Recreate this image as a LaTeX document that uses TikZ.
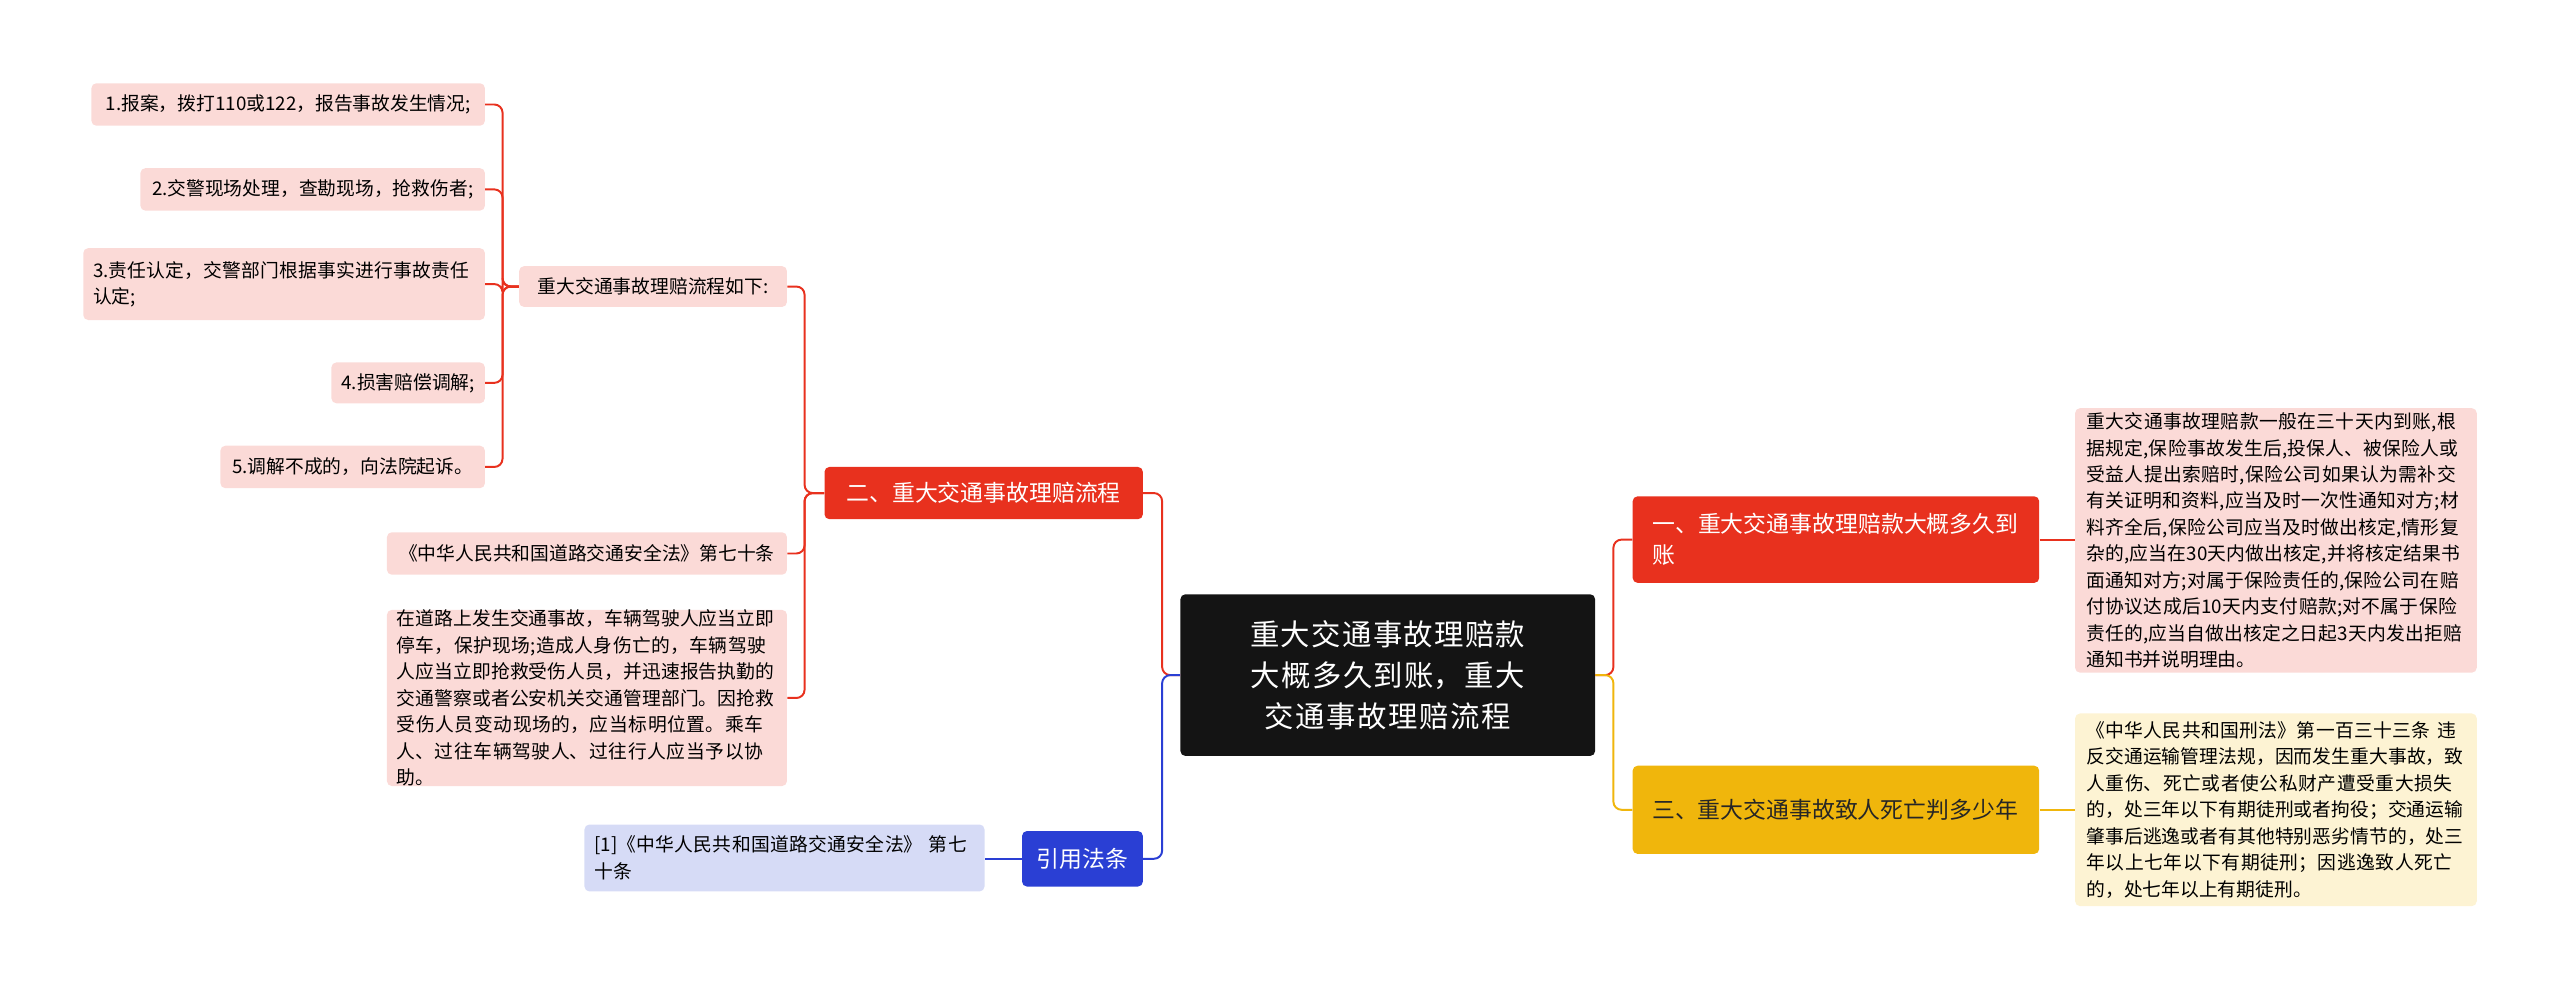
\documentclass[tikz,border=0pt]{standalone}
\usepackage{fontspec}
\setmainfont{Noto Sans CJK SC}
\XeTeXlinebreaklocale "zh"
\XeTeXlinebreakskip=0pt plus 1pt
\definecolor{cred}{HTML}{E8311E}
\definecolor{cpink}{HTML}{FBDAD7}
\definecolor{cyel}{HTML}{F0B60C}
\definecolor{clyel}{HTML}{FDF3D3}
\definecolor{cblue}{HTML}{2A3FD4}
\definecolor{clav}{HTML}{D6DBF6}
\begin{document}
\begin{tikzpicture}[x=1pt,y=-1pt,
 bx/.style={rounded corners=3pt,inner sep=0pt,align=left,anchor=center},
 leaf/.style={bx,fill=cpink,font=\fontsize{11.5}{16.2}\selectfont},
 lv/.style={bx,font=\fontsize{14}{19}\selectfont},
 ln/.style={line width=1.2pt,rounded corners=5pt}]
\useasboundingbox (0,0) rectangle (1568,606);
% center
\node[bx,fill=black!92,text=white,align=center,minimum width=254,minimum height=99,text width=226,font=\fontsize{18}{25}\selectfont] (c) at (850,413.5) {重大交通事故理赔款大概多久到账，重大交通事故理赔流程};
% right
\node[lv,fill=cred,text=white,minimum width=249,minimum height=53,text width=225] (r1) at (1124.5,330.5) {一、重大交通事故理赔款大概多久到账};
\node[leaf,minimum width=246,minimum height=162,text width=232] (r1a) at (1394,331) {重大交通事故理赔款一般在三十天内到账,根据规定,保险事故发生后,投保人、被保险人或受益人提出索赔时,保险公司如果认为需补交有关证明和资料,应当及时一次性通知对方;材料齐全后,保险公司应当及时做出核定,情形复杂的,应当在30天内做出核定,并将核定结果书面通知对方;对属于保险责任的,保险公司在赔付协议达成后10天内支付赔款;对不属于保险责任的,应当自做出核定之日起3天内发出拒赔通知书并说明理由。};
\node[lv,fill=cyel,text=black!85,minimum width=249,minimum height=54,text width=225] (r2) at (1124.5,496) {三、重大交通事故致人死亡判多少年};
\node[leaf,fill=clyel,minimum width=246,minimum height=118,text width=232] (r2a) at (1394,496) {《中华人民共和国刑法》第一百三十三条 违反交通运输管理法规，因而发生重大事故，致人重伤、死亡或者使公私财产遭受重大损失的，处三年以下有期徒刑或者拘役；交通运输肇事后逃逸或者有其他特别恶劣情节的，处三年以上七年以下有期徒刑；因逃逸致人死亡的，处七年以上有期徒刑。};
% left
\node[lv,fill=cred,text=white,align=center,minimum width=195,minimum height=32] (l1) at (602.5,302) {二、重大交通事故理赔流程};
\node[lv,fill=cblue,text=white,align=center,minimum width=74,minimum height=34] (l2) at (663,526) {引用法条};
\node[leaf,minimum width=164,minimum height=25,align=center] (a) at (400,175.5) {重大交通事故理赔流程如下:};
\node[leaf,minimum width=245,minimum height=26,align=center] (b) at (359.5,339) {《中华人民共和国道路交通安全法》第七十条};
\node[leaf,minimum width=245,minimum height=103,text width=233] (d) at (359.5,427.5) {在道路上发生交通事故，车辆驾驶人应当立即停车，保护现场;造成人身伤亡的，车辆驾驶人应当立即抢救受伤人员，并迅速报告执勤的交通警察或者公安机关交通管理部门。因抢救受伤人员变动现场的，应当标明位置。乘车人、过往车辆驾驶人、过往行人应当予以协助。};
\node[leaf,fill=clav,minimum width=245,minimum height=41,text width=233] (e) at (480.5,525.5) {[1]《中华人民共和国道路交通安全法》 第七十条};
\node[leaf,minimum width=241,minimum height=26,align=center] (s1) at (176.5,64) {1.报案，拨打110或122，报告事故发生情况;};
\node[leaf,minimum width=211,minimum height=26,align=center] (s2) at (191.5,116) {2.交警现场处理，查勘现场，抢救伤者;};
\node[leaf,minimum width=246,minimum height=44,text width=234] (s3) at (174,174) {3.责任认定，交警部门根据事实进行事故责任认定;};
\node[leaf,minimum width=94,minimum height=25,align=center] (s4) at (250,234.5) {4.损害赔偿调解;};
\node[leaf,minimum width=162,minimum height=26,align=center] (s5) at (216,286) {5.调解不成的，向法院起诉。};
% connectors
\draw[ln,cred] (c.west) -- ++(-11,0) |- (l1.east);
\draw[ln,cblue] (c.west) -- ++(-11,0) |- (l2.east);
\draw[ln,cred] (c.east) -- ++(11,0) |- (r1.west);
\draw[ln,cyel] (c.east) -- ++(11,0) |- (r2.west);
\draw[ln,cred] (r1.east) -- (r1a.west|-r1.east);
\draw[ln,cyel] (r2.east) -- (r2a.west);
\draw[ln,cblue] (l2.west) -- (e.east|-l2.west);
\foreach \n in {a,b,d} \draw[ln,cred] (l1.west) -- ++(-12,0) |- (\n.east);
\foreach \n in {s1,s2,s3,s4,s5} \draw[ln,cred] (a.west) -- ++(-10,0) |- (\n.east);
\end{tikzpicture}
\end{document}
